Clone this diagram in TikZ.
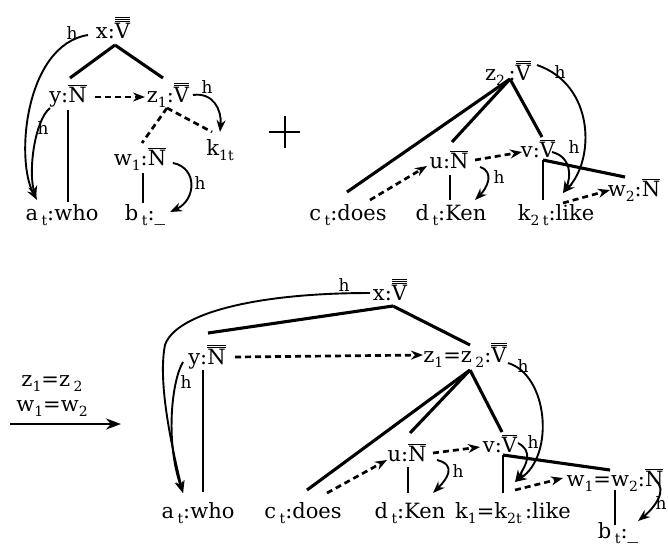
\documentclass[tikz,border=0pt]{standalone}
\usepackage{fontspec}
\setmainfont{DejaVu Serif}
\usetikzlibrary{arrows.meta,calc}
\newcommand\ob[1]{\ensuremath{\overline{\hbox{#1}}}}
\newcommand\lo[1]{\raisebox{-0.5ex}{\fontsize{14}{14}\selectfont #1}}
\tikzset{
  lbl/.style={inner sep=0pt, anchor=base, font=\fontsize{21}{24}\selectfont},
  hl/.style={inner sep=0pt, anchor=base, font=\fontsize{17}{17}\selectfont},
  tree/.style={line width=3.1pt},
  thinline/.style={line width=2.2pt},
  dsh/.style={line width=2.7pt, dash pattern=on 6pt off 4pt},
  dsharr/.style={dsh, -{Stealth[length=12pt,width=9pt]}},
  harr/.style={line width=1.9pt, -{Stealth[length=12pt,width=9pt]}},
  bigarr/.style={line width=2.8pt, -{Stealth[length=15pt,width=11pt]}}
}
\begin{document}
\begin{tikzpicture}[x=1pt,y=-1pt]
\useasboundingbox (0,0) rectangle (668,550);
% ---------- top left ----------
\node[lbl] (xA) at (113,38) {x:\ob{\ob{\ob{V}}}};
\node[lbl] (yA) at (68,102) {y:\ob{N}};
\node[lbl] (zA) at (168,102) {z\lo{1}:\ob{\ob{V}}};
\node[lbl] (kA) at (220,155) {k\lo{1}\lo{t}};
\node[lbl] (wA) at (140,165) {w\lo{1}:\ob{N}};
\node[lbl] (aA) at (62,220) {a\,\lo{t}:who};
\node[lbl] (bA) at (145,220) {b\,\lo{t}:\_};
\draw[tree] ($(xA.base)+(2,7)$) -- ($(yA.base)+(2,-24)$);
\draw[tree] ($(xA.base)+(2,7)$) -- ($(zA.base)+(-5,-24)$);
\draw[dsharr] ($(yA.base)+(27,-5)$) -- ($(zA.base)+(-23,-5)$);
\draw[dsh] ($(zA.base)+(-1,6)$) -- ($(wA.base)+(2,-22)$);
\draw[dsh] ($(zA.base)+(-1,6)$) -- ($(kA.base)+(-8,-23)$);
\draw[harr] ($(zA.base)+(25,-7)$) .. controls +(20,-3) and +(2,-22) .. ($(kA.base)+(0,-23)$);
\node[hl] at (207,93) {h};
\draw[thinline] ($(wA.base)+(3,8)$) -- ($(bA.base)+(-2,-17)$);
\draw[harr] ($(wA.base)+(33,-2)$) .. controls +(25,5) and +(26,-12) .. ($(bA.base)+(25,-8)$);
\node[hl] at (200,189) {h};
\draw[thinline] ($(yA.base)+(0,8)$) -- ($(aA.base)+(6,-18)$);
\draw[harr] ($(xA.base)+(-25,-3)$) .. controls (25,45) and (15,160) .. ($(aA.base)+(-25,-20)$);
\node[hl] at (72,39) {h};
\draw[harr] ($(yA.base)+(-18,6)$) .. controls (35,120) and (28,170) .. ($(aA.base)+(-26,-22)$);
\node[hl] at (43,134) {h};
% plus
\draw[line width=2.6pt] (269,132) -- (300,132) (285,116) -- (285,148);
% ---------- top right ----------
\node[lbl] (zB) at (508,80) {z\lo{2}\,:\ob{\ob{V}}};
\node[lbl] (uB) at (449,168) {u:\ob{N}};
\node[lbl] (vB) at (538,157) {v:\ob{V}};
\node[lbl] (wB) at (634,196) {w\lo{2}:\ob{N}};
\node[lbl] (cB) at (348,220) {c\,\lo{t}:does};
\node[lbl] (dB) at (451,220) {d\,\lo{t}:Ken};
\node[lbl] (kB) at (556,220) {k\lo{2}\,\lo{t}:like};
\draw[tree] ($(zB.base)+(2,-1)$) -- ($(cB.base)+(-1,-28)$);
\draw[tree] ($(zB.base)+(2,-1)$) -- ($(uB.base)+(3,-26)$);
\draw[tree] ($(zB.base)+(2,-1)$) -- ($(vB.base)+(4,-20)$);
\draw[dsharr] ($(cB.base)+(22,-20)$) -- ($(uB.base)+(-22,-2)$);
\draw[dsharr] ($(uB.base)+(26,-8)$) -- ($(vB.base)+(-16,-5)$);
\draw[thinline] ($(uB.base)+(1,7)$) -- ($(dB.base)+(-1,-20)$);
\draw[harr] ($(uB.base)+(31,-1)$) .. controls +(15,5) and +(12,-12) .. ($(dB.base)+(24,-20)$);
\node[hl] at (499,183) {h};
\draw[thinline] ($(vB.base)+(5,3)$) -- ($(kB.base)+(-13,-20)$);
\draw[tree] ($(vB.base)+(5,3)$) -- ($(wB.base)+(-9,-19)$);
\draw[dsharr] ($(kB.base)+(7,-17)$) -- ($(wB.base)+(-24,-6)$);
\draw[harr] ($(vB.base)+(14,-5)$) .. controls +(20,5) and +(8,-15) .. ($(kB.base)+(7,-27)$);
\node[hl] at (574,153) {h};
\draw[harr] ($(zB.base)+(29,-15)$) .. controls (595,85) and (595,160) .. ($(kB.base)+(7,-27)$);
\node[hl] at (560,78) {h};
% ---------- arrow ----------
\coordinate (arrS) at (10,424);
\coordinate (arrE) at (121,424);
\draw[bigarr] (arrS) -- (arrE);
\node[lbl] (eq1) at (52,386) {z\lo{1}=z\,\lo{2}};
\node[lbl] (eq2) at (52,411) {w\lo{1}=w\lo{2}};
% ---------- bottom ----------
\node[lbl] (xC) at (390,300) {x:\ob{\ob{\ob{V}}}};
\node[lbl] (yC) at (207,364) {y:\ob{\ob{N}}};
\node[lbl] (zC) at (465,362) {z\lo{1}=z\,\lo{2}:\ob{\ob{V}}};
\node[lbl] (uC) at (407,461) {u:\ob{N}};
\node[lbl] (vC) at (500,452) {v:\ob{V}};
\node[lbl] (wC) at (615,486) {w\lo{1}=w\lo{2}:\ob{N}};
\node[lbl] (aC) at (198,518) {a\,\lo{t}:who};
\node[lbl] (cC) at (303,518) {c\,\lo{t}:does};
\node[lbl] (dC) at (410,518) {d\,\lo{t}:Ken};
\node[lbl] (kC) at (513,518) {k\lo{1}=k\lo{2}\lo{t}\,:like};
\node[lbl] (bC) at (618,538) {b\,\lo{t}:\_};
\draw[tree] ($(xC.base)+(3,6)$) -- ($(yC.base)+(1,-31)$);
\draw[tree] ($(xC.base)+(3,6)$) -- ($(zC.base)+(5,-17)$);
\draw[dsharr] ($(yC.base)+(28,-7)$) -- ($(zC.base)+(-42,-7)$);
\draw[thinline] ($(yC.base)+(-4,6)$) -- ($(aC.base)+(5,-26)$);
\draw[harr] ($(yC.base)+(-24,-2)$) .. controls +(-11,18) and +(-18,-53) .. ($(aC.base)+(-15,-25)$);
\node[hl] at (186,388) {h};
\draw[harr] ($(xC.base)+(-20,-7)$) .. controls (250,293) and (175,315) .. (165,345) .. controls (158,380) and (170,440) .. ($(aC.base)+(-15,-25)$);
\node[hl] at (344,291) {h};
\draw[tree] ($(zC.base)+(5,8)$) -- ($(cC.base)+(4,-28)$);
\draw[tree] ($(zC.base)+(5,8)$) -- ($(uC.base)+(3,-28)$);
\draw[tree] ($(zC.base)+(5,8)$) -- ($(vC.base)+(2,-20)$);
\draw[dsharr] ($(cC.base)+(24,-25)$) -- ($(uC.base)+(-20,-1)$);
\draw[dsharr] ($(uC.base)+(26,-8)$) -- ($(vC.base)+(-20,-5)$);
\draw[thinline] ($(uC.base)+(1,6)$) -- ($(dC.base)+(-2,-25)$);
\draw[harr] ($(uC.base)+(30,-1)$) .. controls +(20,5) and +(14,-14) .. ($(dC.base)+(23,-25)$);
\node[hl] at (458,477) {h};
\draw[thinline] ($(vC.base)+(3,3)$) -- ($(kC.base)+(-10,-25)$);
\draw[tree] ($(vC.base)+(3,3)$) -- ($(wC.base)+(-5,-16)$);
\draw[dsharr] ($(kC.base)+(2,-28)$) -- ($(wC.base)+(-52,-8)$);
\draw[harr] ($(vC.base)+(18,-9)$) .. controls +(15,8) and +(12,-18) .. ($(kC.base)+(2,-36)$);
\node[hl] at (533,448) {h};
\draw[harr] ($(zC.base)+(43,1)$) .. controls (548,375) and (555,455) .. ($(kC.base)+(2,-36)$);
\node[hl] at (523,372) {h};
\draw[thinline] ($(wC.base)+(0,4)$) -- ($(bC.base)+(-3,-13)$);
\draw[harr] ($(wC.base)+(40,-6)$) .. controls +(14,10) and +(15,-12) .. ($(bC.base)+(20,-17)$);
\node[hl] at (661,509) {h};
\end{tikzpicture}
\end{document}
